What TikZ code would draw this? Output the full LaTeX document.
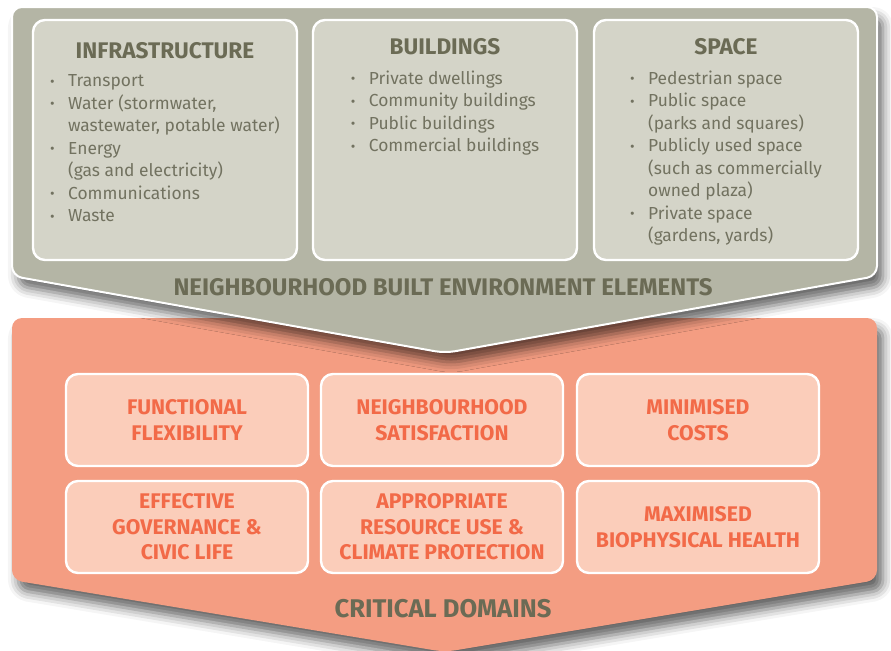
\documentclass[tikz,border=0pt]{standalone}
\usepackage{fontspec}
\setmainfont{Fira Sans}
\usetikzlibrary{positioning,shadows,shadows.blur}

\definecolor{elemouter}{HTML}{B4B5A5}
\definecolor{eleminner}{HTML}{D4D4C8}
\definecolor{elemtext}{HTML}{727260}
\definecolor{elemhead}{HTML}{6B6B55}
\definecolor{domainouter}{HTML}{F49D82}
\definecolor{domaininner}{HTML}{FBCDBA}
\definecolor{domaintext}{HTML}{F26A48}

\newcommand\itm{\makebox[9pt][l]{\raisebox{0.3pt}{\fontsize{7}{7}\selectfont\textbullet}}}
\newcommand\cont{\hspace*{9pt}}

\begin{document}
\begin{tikzpicture}[x=0.5pt,y=-0.5pt,
      elembox/.style={draw=white,line width=1.2pt,fill=eleminner,rounded corners=6pt,
        minimum width=132pt,minimum height=120pt},
      elemtitle/.style={font=\fontsize{11.3}{13}\selectfont\bfseries,text=elemhead},
      elemlist/.style={font=\fontsize{8.7}{11.25}\selectfont,text=elemtext,align=left,inner sep=0pt},
      domainbox/.style={draw=white,line width=1.2pt,fill=domaininner,rounded corners=6pt,
        minimum width=121pt,minimum height=46pt,align=center,
        font=\fontsize{10.6}{12.8}\selectfont\bfseries,text=domaintext},
      bandlabel/.style={font=\fontsize{12}{14}\selectfont\bfseries,text=elemhead},
      softshadow/.style={blur shadow={shadow xshift=3pt,shadow yshift=-5pt,
        shadow blur radius=5pt,shadow opacity=60}}]

      \useasboundingbox (0,0) rectangle (891,650);

      % the two arrow shaped bands
      \fill[softshadow,fill=domainouter,rounded corners=5pt]
        (12,318) -- (877,318) -- (877,580) -- (445,652) -- (12,580) -- cycle;
      \draw[softshadow,draw=white,line width=1pt,fill=elemouter,rounded corners=5pt]
        (12,7) -- (877,7) -- (877,276) -- (445,353) -- (12,276) -- cycle;

      % built environment elements
      \node[elembox] (infra) at (165,140) {};
      \node[elembox] (bldg) at (445,140) {};
      \node[elembox] (space) at (726,140) {};

      \node[elemtitle,below=8.5pt of infra.north] (infrahead) {INFRASTRUCTURE};
      \node[elemtitle,below=6.5pt of bldg.north] (bldghead) {BUILDINGS};
      \node[elemtitle,below=6.5pt of space.north] (spacehead) {SPACE};

      \node[elemlist,below=4pt of infrahead] (infralist) {%
        \itm Transport\\
        \itm Water (stormwater,\\
        \cont wastewater, potable water)\\
        \itm Energy\\
        \cont (gas and electricity)\\
        \itm Communications\\
        \itm Waste};
      \node[elemlist,below=4pt of bldghead] (bldglist) {%
        \itm Private dwellings\\
        \itm Community buildings\\
        \itm Public buildings\\
        \itm Commercial buildings};
      \node[elemlist,below=4pt of spacehead] (spacelist) {%
        \itm Pedestrian space\\
        \itm Public space\\
        \cont (parks and squares)\\
        \itm Publicly used space\\
        \cont (such as commercially\\
        \cont owned plaza)\\
        \itm Private space\\
        \cont (gardens, yards)};

      \node[bandlabel] (elemlabel) at (443,287) {NEIGHBOURHOOD BUILT ENVIRONMENT ELEMENTS};

      % critical domains
      \node[domainbox] (flex) at (187,420) {FUNCTIONAL\\FLEXIBILITY};
      \node[domainbox] (satis) at (442,420) {NEIGHBOURHOOD\\SATISFACTION};
      \node[domainbox] (costs) at (698,420) {MINIMISED\\COSTS};
      \node[domainbox] (gov) at (187,527) {EFFECTIVE\\GOVERNANCE \&\\CIVIC LIFE};
      \node[domainbox] (resource) at (442,527) {APPROPRIATE\\RESOURCE USE \&\\CLIMATE PROTECTION};
      \node[domainbox] (health) at (698,527) {MAXIMISED\\BIOPHYSICAL HEALTH};

      \node[bandlabel,font=\fontsize{12.8}{14}\selectfont\bfseries] (domainlabel) at (443,609) {CRITICAL DOMAINS};

    \end{tikzpicture}
\end{document}
